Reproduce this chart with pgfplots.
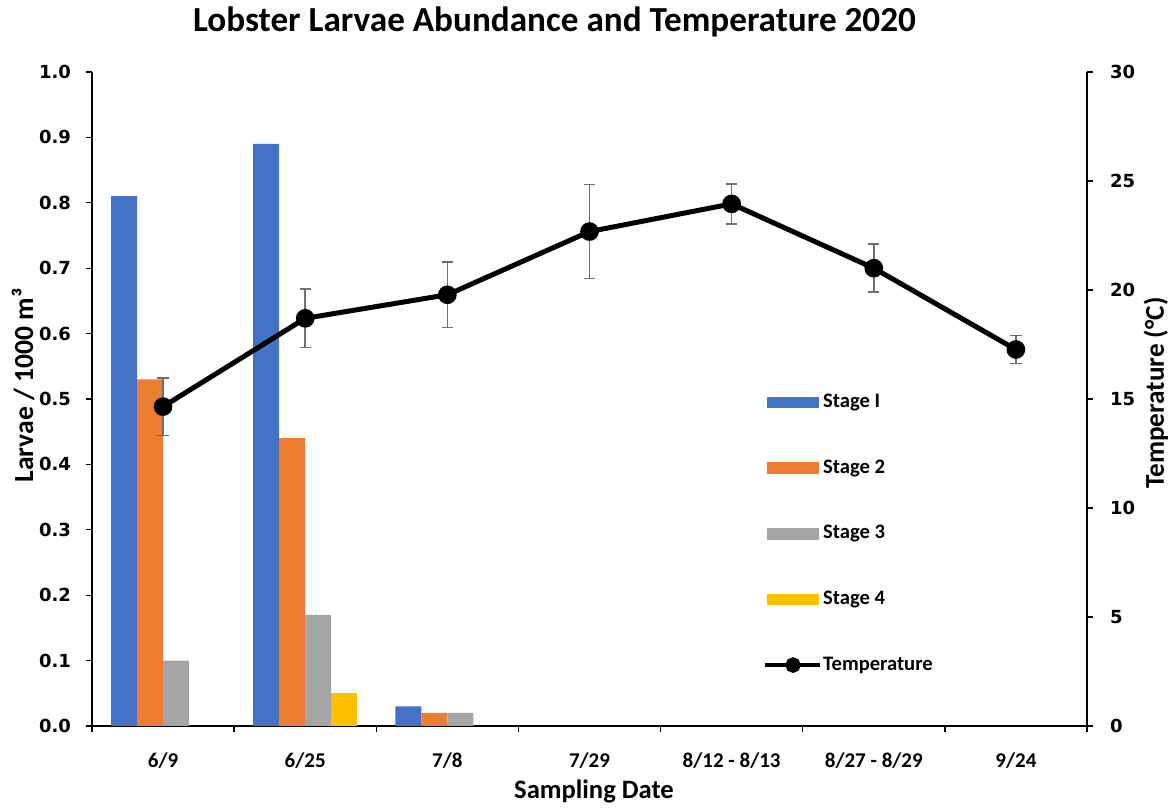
\documentclass[border=0pt]{standalone}
\usepackage{pgfplots}
\pgfplotsset{compat=1.18}
\usepackage{pgfplotstable}
\usepackage{fontspec}
\setmainfont{Carlito}
\newfontfamily\tickfont{DejaVu Sans}
\definecolor{c1}{HTML}{4472C4}
\definecolor{c2}{HTML}{ED7D31}
\definecolor{c3}{HTML}{A5A5A5}
\definecolor{c4}{HTML}{FFC000}
\definecolor{errc}{HTML}{707070}

\pgfplotstableread{
x y err
0 14.65 1.32
1 18.70 1.34
2 19.78 1.50
3 22.68 2.15
4 23.95 0.92
5 21.00 1.10
6 17.27 0.65
}\temptable

\begin{document}
\begin{tikzpicture}
\useasboundingbox (0pt,0pt) rectangle (585pt,403.5pt);
\pgfplotsset{
  common/.style={
    at={(46pt,40.5pt)}, anchor=south west,
    scale only axis, width=497.5pt, height=327pt,
    xmin=-0.5, xmax=6.5,
    axis line style={line width=0.65pt, black},
    tick align=outside,
    major tick length=3pt, minor tick length=3pt,
    tick style={black, line width=0.65pt},
    /pgf/number format/assume math mode=true,
    yticklabel style={font=\tickfont\bfseries\fontsize{9}{10}\selectfont},
  }
}
\begin{axis}[common,
  ymin=0, ymax=1,
  axis x line*=bottom, axis y line*=left,
  ybar=0pt, bar width=13pt,
  xtick={0,...,6},
  xticklabels={6/9,6/25,7/8,7/29,8/12 - 8/13,8/27 - 8/29,9/24},
  xticklabel style={font=\bfseries\fontsize{10.5}{12}\selectfont, yshift=-7pt},
  minor xtick={-0.5,0.5,...,6.5},
  major x tick style={draw=none},
  ytick={0,0.1,0.2,0.3,0.4,0.5,0.6,0.7,0.8,0.9,1.0},
  yticklabel={\pgfmathprintnumber[fixed,fixed zerofill,precision=1]{\tick}},
  yticklabel style={xshift=-4pt},
]
\addplot[fill=c1, draw=none] coordinates {(0,0.81) (1,0.89) (2,0.03)};
\addplot[fill=c2, draw=none] coordinates {(0,0.53) (1,0.44) (2,0.02)};
\addplot[fill=c3, draw=none] coordinates {(0,0.10) (1,0.17) (2,0.02)};
\addplot[fill=c4, draw=none] coordinates {(1,0.05)};
\end{axis}

\begin{axis}[common,
  ymin=0, ymax=30,
  axis x line=none, axis y line*=right,
  ytick={0,5,10,15,20,25,30},
  yticklabel style={xshift=5pt},
  legend style={at={(rel axis cs:0.674,0.51)}, anchor=north west,
    draw=none, fill=none, inner sep=0pt,
    font=\bfseries\fontsize{10.3}{12}\selectfont,
    row sep=23.4pt, legend cell align=left,
    nodes={inner sep=0.6pt}},
]
\addlegendimage{legend image code/.code={\fill[c1] (0pt,-2.6pt) rectangle (25.5pt,2.6pt);}}
\addlegendimage{legend image code/.code={\fill[c2] (0pt,-2.6pt) rectangle (25.5pt,2.6pt);}}
\addlegendimage{legend image code/.code={\fill[c3] (0pt,-2.6pt) rectangle (25.5pt,2.6pt);}}
\addlegendimage{legend image code/.code={\fill[c4] (0pt,-2.6pt) rectangle (25.5pt,2.6pt);}}
\addplot[forget plot, draw=none, mark=none,
  error bars/.cd, y dir=both, y explicit,
  error bar style={draw=errc, line width=0.75pt},
  error mark options={rotate=90, mark size=2.8pt, draw=errc, line width=0.75pt}]
  table[x=x, y=y, y error=err] {\temptable};
\addplot[black, line width=2.5pt, mark=*, mark size=3.4pt,
  legend image code/.code={\draw[black, line width=2pt] (-1pt,0pt) -- (26.5pt,0pt);
    \fill[black] (13pt,0pt) circle (2.6pt);}]
  table[x=x, y=y] {\temptable};
\legend{Stage I,Stage 2,Stage 3,Stage 4,Temperature}
\end{axis}

\node[font=\bfseries\fontsize{17.6}{20}\selectfont] at (277.25pt,392.5pt) {Lobster Larvae Abundance and Temperature 2020};
\node[font=\bfseries\fontsize{13.8}{15}\selectfont, rotate=90] at (11.5pt,210.75pt) {Larvae / 1000 m³};
\node[font=\bfseries\fontsize{13.6}{15}\selectfont, rotate=90] at (578pt,207pt) {Temperature (°C)};
\node[font=\bfseries\fontsize{13.3}{15}\selectfont] at (297pt,8pt) {Sampling Date};
\end{tikzpicture}
\end{document}
